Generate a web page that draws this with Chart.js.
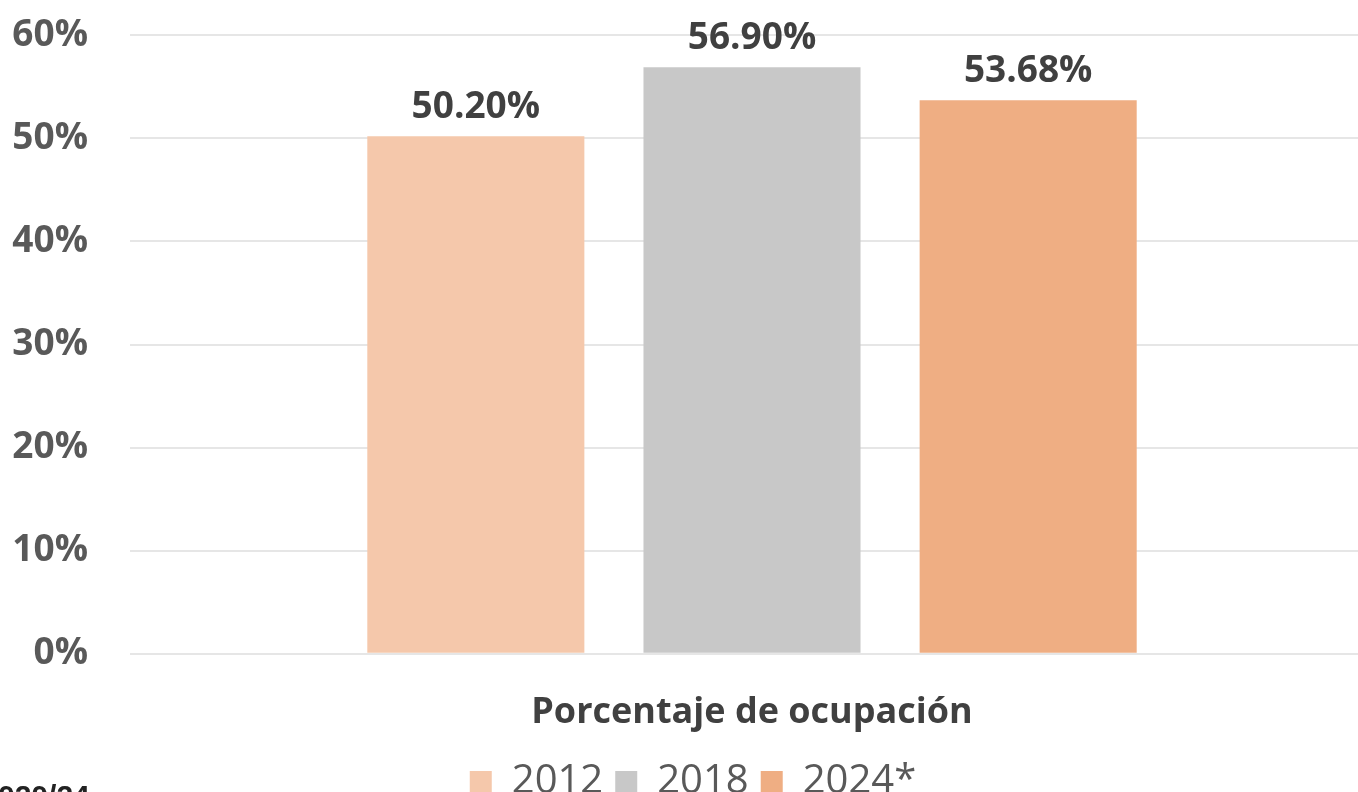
<!DOCTYPE html>
<html>
<head>
<meta charset="utf-8">
<script src="https://cdn.jsdelivr.net/npm/chart.js@4.4.1/dist/chart.umd.min.js"></script>
<style>
  html, body { margin: 0; padding: 0; background: #fff; overflow: hidden; }
  #wrap { position: relative; width: 1358px; height: 792px; overflow: hidden; }
  #box { position: absolute; left: 0; top: -29px; width: 1374px; height: 854px; }
  #note {
    position: absolute; left: -2px; top: 779px;
    font: bold 30px "Liberation Sans", Arial, sans-serif; color: #222;
  }
</style>
</head>
<body>
<div id="wrap">
  <div id="box"><canvas id="chart"></canvas></div>
  <div id="note">020/24</div>
</div>
<script>
// chart data
const categories = ['Porcentaje de ocupación'];
const seriesLabels = ['2012', '2018', '2024*'];
const seriesValues = [[50.2], [56.9], [53.68]];
const seriesColors = ['#F5C8AB', '#C8C8C8', '#EFAE83'];
const yTicks = [0, 10, 20, 30, 40, 50, 60];

const FONT = '"Open Sans", sans-serif';

// draws the value above each bar
const valueLabels = {
  id: 'valueLabels',
  afterDatasetsDraw(chart) {
    const ctx = chart.ctx;
    ctx.save();
    ctx.font = `bold 37px ${FONT}`;
    ctx.fillStyle = '#404040';
    ctx.textAlign = 'center';
    ctx.textBaseline = 'bottom';
    chart.data.datasets.forEach((ds, i) => {
      chart.getDatasetMeta(i).data.forEach((bar, j) => {
        ctx.fillText(ds.data[j].toFixed(2) + '%', bar.x, bar.y - 10);
      });
    });
    ctx.restore();
  },
};

const datasets = seriesLabels.map((label, i) => ({
  label,
  data: seriesValues[i],
  backgroundColor: seriesColors[i],
  barPercentage: 0.786,
  categoryPercentage: 0.666,
}));

new Chart(document.getElementById('chart').getContext('2d'), {
  type: 'bar',
  data: { labels: categories, datasets },
  plugins: [valueLabels],
  options: {
    responsive: true,
    maintainAspectRatio: false,
    animation: false,
    layout: { padding: { top: 15, left: 12, right: 0, bottom: 13 } },
    plugins: {
      legend: {
        position: 'bottom',
        labels: {
          boxWidth: 22,
          boxHeight: 22,
          padding: 12,
          color: '#595959',
          font: { family: FONT, size: 40 },
        },
      },
      tooltip: { enabled: false },
    },
    scales: {
      x: {
        grid: { display: false },
        border: { display: false },
        afterFit: (axis) => {
          axis.height -= 13;
        },
        ticks: {
          color: '#404040',
          padding: 29,
          font: { family: FONT, size: 36, weight: 'bold' },
        },
      },
      y: {
        min: 0,
        max: 60,
        afterBuildTicks: (axis) => {
          axis.ticks = yTicks.map((v) => ({ value: v }));
        },
        afterFit: (axis) => {
          axis.width = 118;
        },
        grid: { color: '#E6E6E6', lineWidth: 2, drawTicks: false },
        border: { display: false },
        ticks: {
          color: '#595959',
          padding: 42,
          font: { family: FONT, size: 37, weight: 'bold' },
          callback: (value) => `${value}%`,
        },
      },
    },
  },
});
</script>
</body>
</html>
